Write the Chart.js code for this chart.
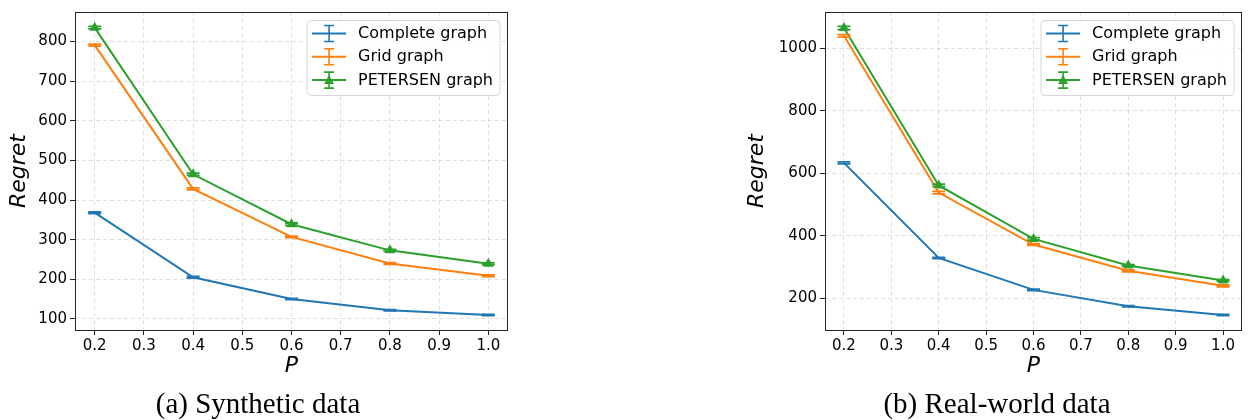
<!DOCTYPE html>
<html>
<head>
<meta charset="utf-8">
<script src="https://cdn.jsdelivr.net/npm/chart.js@4.4.1/dist/chart.umd.min.js"></script>
<style>
  html, body { margin: 0; padding: 0; background: #fff; }
  body { width: 1248px; height: 420px; position: relative; overflow: hidden; }
  canvas { position: absolute; top: 0; }
  #c1 { left: 0; }
  #c2 { left: 730px; }
  .cap { position: absolute; top: 387px; font-family: "Liberation Serif", "DejaVu Serif", serif; font-size: 29px; line-height: 33px; color: #000; white-space: nowrap; transform: translateX(-50%); }
</style>
</head>
<body>
<canvas id="c1" width="520" height="420"></canvas>
<canvas id="c2" width="518" height="420"></canvas>
<div class="cap" style="left:258px">(a) Synthetic data</div>
<div class="cap" style="left:997px">(b) Real-world data</div>
<script>
// ---------- data ----------
const P = [0.2, 0.4, 0.6, 0.8, 1.0];
const xTicks = [0.2, 0.3, 0.4, 0.5, 0.6, 0.7, 0.8, 0.9, 1.0];
const seriesNames = ["Complete graph", "Grid graph", "PETERSEN graph"];

// (a) Synthetic data
const synComplete = [368, 205, 150, 122, 110];
const synGrid     = [791, 428, 307, 240, 209];
const synPetersen = [835, 465, 339, 273, 239];
const synCompleteErr = [2, 2, 1.5, 1.5, 1.5];
const synGridErr     = [2.5, 2.5, 2, 2, 2];
const synPetersenErr = [3, 3, 3, 2.5, 2.5];
const synYTicks = [100, 200, 300, 400, 500, 600, 700, 800];

// (b) Real-world data
const realComplete = [633, 329, 227, 175, 147];
const realGrid     = [1039, 538, 372, 288, 240];
const realPetersen = [1064, 561, 390, 305, 257];
const realCompleteErr = [3, 2, 2, 2, 2];
const realGridErr     = [4, 4, 3, 3, 3];
const realPetersenErr = [5, 4, 4, 3, 3];
const realYTicks = [200, 400, 600, 800, 1000];

const colors = ["#1f77b4", "#ff7f0e", "#2ca02c"];

// ---------- plugins ----------
const errorBarPlugin = {
  id: 'errorBars',
  afterDatasetsDraw(chart) {
    const ctx = chart.ctx, xs = chart.scales.x, ys = chart.scales.y;
    chart.data.datasets.forEach((ds) => {
      ctx.save();
      ctx.strokeStyle = ds.borderColor;
      ctx.lineWidth = 1.8;
      ds.data.forEach((pt, i) => {
        const e = ds.errors[i];
        const px = xs.getPixelForValue(pt.x);
        const y1 = ys.getPixelForValue(pt.y - e);
        const y2 = ys.getPixelForValue(pt.y + e);
        const hw = 6.5;
        ctx.beginPath();
        ctx.moveTo(px, y1); ctx.lineTo(px, y2);
        ctx.moveTo(px - hw, y1); ctx.lineTo(px + hw, y1);
        ctx.moveTo(px - hw, y2); ctx.lineTo(px + hw, y2);
        ctx.stroke();
      });
      ctx.restore();
    });
  }
};

const framePlugin = {
  id: 'frame',
  afterDraw(chart) {
    const {ctx, chartArea: a} = chart;
    ctx.save();
    ctx.strokeStyle = '#262626';
    ctx.lineWidth = 1;
    ctx.strokeRect(Math.round(a.left) + 0.5, Math.round(a.top) + 0.5, Math.round(a.right - a.left) - 1, Math.round(a.bottom - a.top));
    ctx.restore();
  }
};

const legendPlugin = {
  id: 'innerLegend',
  afterDraw(chart) {
    const {ctx, chartArea: a} = chart;
    ctx.save();
    ctx.font = '16px "DejaVu Sans"';
    let maxW = 0;
    chart.data.datasets.forEach(ds => { maxW = Math.max(maxW, ctx.measureText(ds.label).width); });
    const w = 51 + maxW + 7, h = 75;
    const right = a.right - 8.5, top = a.top + 8;
    const left = right - w;
    ctx.beginPath();
    ctx.roundRect(left + 0.5, top + 0.5, w, h, 4);
    ctx.fillStyle = 'rgba(255,255,255,0.85)';
    ctx.fill();
    ctx.strokeStyle = '#d6d6d6';
    ctx.lineWidth = 1;
    ctx.stroke();
    chart.data.datasets.forEach((ds, i) => {
      const cy = top + 13.5 + i * 23.3;
      const x0 = left + 5.5, x1 = x0 + 34, cx = (x0 + x1) / 2;
      ctx.strokeStyle = ds.borderColor;
      ctx.lineWidth = 2;
      ctx.beginPath(); ctx.moveTo(x0, cy); ctx.lineTo(x1, cy); ctx.stroke();
      ctx.lineWidth = 1.6;
      ctx.beginPath();
      ctx.moveTo(cx, cy - 8); ctx.lineTo(cx, cy + 8);
      ctx.moveTo(cx - 5, cy - 8); ctx.lineTo(cx + 5, cy - 8);
      ctx.moveTo(cx - 5, cy + 8); ctx.lineTo(cx + 5, cy + 8);
      ctx.stroke();
      if (ds.pointStyle === 'triangle') {
        ctx.fillStyle = ds.borderColor;
        ctx.beginPath();
        ctx.moveTo(cx, cy - 5); ctx.lineTo(cx + 5, cy + 4); ctx.lineTo(cx - 5, cy + 4); ctx.closePath();
        ctx.fill();
      }
      ctx.fillStyle = '#000';
      ctx.textBaseline = 'middle';
      ctx.textAlign = 'left';
      ctx.fillText(ds.label, left + 51.5, cy + 0.5);
    });
    ctx.restore();
  }
};

function makeDataset(label, values, errors, color, marker) {
  return {
    label: label,
    data: P.map((p, i) => ({x: p, y: values[i]})),
    errors: errors,
    borderColor: color,
    backgroundColor: color,
    borderWidth: 2,
    tension: 0,
    pointRadius: marker ? 6 : 0,
    pointHoverRadius: marker ? 6 : 0,
    pointStyle: marker ? 'triangle' : 'circle',
    pointBorderWidth: 0
  };
}

function yLimits(seriesList, errList) {
  let lo = Infinity, hi = -Infinity;
  seriesList.forEach((s, k) => s.forEach((v, i) => {
    lo = Math.min(lo, v - errList[k][i]);
    hi = Math.max(hi, v + errList[k][i]);
  }));
  const m = (hi - lo) * 0.05;
  return [lo - m, hi + m];
}

function makeChart(id, series, errs, yTickVals, layout) {
  const [ymin, ymax] = yLimits(series, errs);
  const datasets = series.map((s, k) => makeDataset(seriesNames[k], s, errs[k], colors[k], k === 2));
  const gridCommon = {
    color: 'rgba(176,176,176,0.4)',
    lineWidth: 1,
    drawTicks: true,
    tickLength: 5,
    tickColor: '#222',
    tickWidth: 1,
    tickBorderDash: []
  };
  return new Chart(document.getElementById(id), {
    type: 'line',
    data: { datasets },
    options: {
      responsive: false,
      animation: false,
      devicePixelRatio: 1,
      layout: { padding: { top: 12, right: layout.padRight, left: 0, bottom: 0 } },
      plugins: { legend: { display: false }, tooltip: { enabled: false } },
      scales: {
        x: {
          type: 'linear',
          min: 0.16, max: 1.04,
          grid: gridCommon,
          border: { display: false, dash: [4, 3] },
          afterBuildTicks: (s) => { s.ticks = xTicks.map(v => ({value: v})); },
          afterFit: (s) => { s.height = 90; },
          ticks: {
            color: '#000', padding: 2, maxRotation: 0, autoSkip: false,
            font: { family: 'DejaVu Sans', size: 15 },
            callback: (v) => Number(v).toFixed(1)
          },
          title: {
            display: true, text: 'P', color: '#000',
            font: { family: 'DejaVu Sans', size: 22, style: 'italic' },
            padding: { top: 0, bottom: 41 }
          }
        },
        y: {
          type: 'linear',
          min: ymin, max: ymax,
          grid: gridCommon,
          border: { display: false, dash: [4, 3] },
          afterBuildTicks: (s) => { s.ticks = yTickVals.map(v => ({value: v})); },
          afterFit: (s) => { s.width = layout.yWidth; },
          ticks: {
            color: '#000', padding: 3,
            font: { family: 'DejaVu Sans', size: 15 },
            callback: (v) => String(v)
          },
          title: {
            display: true, text: 'Regret', color: '#000',
            font: { family: 'DejaVu Sans', size: 22, style: 'italic' },
            padding: { top: layout.yTitlePad, bottom: 0 }
          }
        }
      }
    },
    plugins: [errorBarPlugin, framePlugin, legendPlugin]
  });
}

makeChart('c1', [synComplete, synGrid, synPetersen], [synCompleteErr, synGridErr, synPetersenErr], synYTicks,
  { yWidth: 75, padRight: 12, yTitlePad: 6 });
makeChart('c2', [realComplete, realGrid, realPetersen], [realCompleteErr, realGridErr, realPetersenErr], realYTicks,
  { yWidth: 95, padRight: 1, yTitlePad: 14 });
</script>
</body>
</html>
